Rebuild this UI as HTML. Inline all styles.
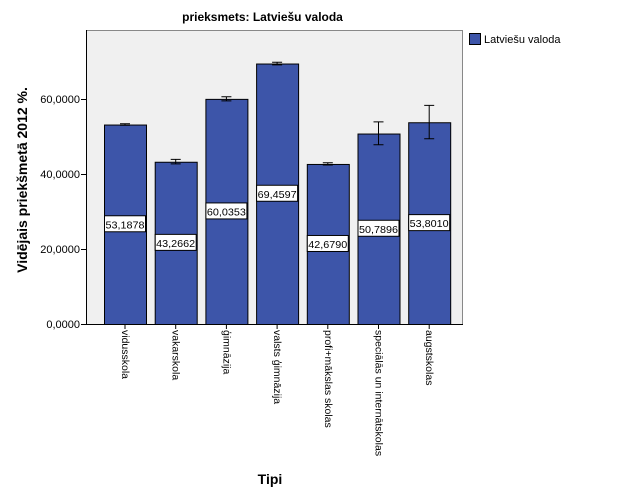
<!DOCTYPE html>
<html><head><meta charset="utf-8"><style>
body{margin:0;width:625px;height:500px;background:#fff;position:relative;overflow:hidden;font-family:"Liberation Sans",sans-serif}
.t{position:absolute;font-size:11px;color:#000}
.vl{position:absolute;writing-mode:vertical-rl;font-size:10.5px;top:330px;line-height:11px}
</style></head><body>
<div class="t" style="left:0;width:525px;top:10px;text-align:center;font-weight:bold;font-size:12px">prieksmets: Latviešu valoda</div>
<svg width="625" height="500" style="position:absolute;left:0;top:0" font-family="Liberation Sans, sans-serif">
<rect x="86.5" y="30.5" width="376" height="294" fill="#f0f0f0" stroke="#888"/>
<g stroke="#000">
<line x1="81" y1="324.5" x2="86" y2="324.5"/><line x1="81" y1="249.5" x2="86" y2="249.5"/>
<line x1="81" y1="174.5" x2="86" y2="174.5"/><line x1="81" y1="99.5" x2="86" y2="99.5"/>
<line x1="86.5" y1="30" x2="86.5" y2="325"/><line x1="86" y1="324.5" x2="463" y2="324.5"/>
</g>
<g font-size="11" text-anchor="end">
<text x="80" y="328">0,0000</text><text x="80" y="253">20,0000</text>
<text x="80" y="178">40,0000</text><text x="80" y="103">60,0000</text>
</g>
<g id="bars"></g>
<rect x="469.5" y="33.5" width="11" height="11" fill="#3d55a9" stroke="#000"/>
<text x="484" y="43" font-size="11">Latviešu valoda</text>
<text transform="translate(27,180) rotate(-90)" text-anchor="middle" font-weight="bold" font-size="14">Vidējais priekšmetā 2012 %.</text>
<text x="270" y="484" text-anchor="middle" font-weight="bold" font-size="14">Tipi</text>
</svg>
<script>
var d=[[53.1878,53.0,53.4,"vidusskola"],[43.2662,42.7,43.9,"vakarskola"],[60.0353,59.5,60.6,"ģimnāzija"],[69.4597,69.1,69.8,"valsts ģimnāzija"],[42.6790,42.4,43.0,"profi+mākslas skolas"],[50.7896,47.8,53.9,"speciālās un internātskolas"],[53.8010,49.4,58.3,"augstskolas"]];
var g=document.getElementById('bars'),s='';
function y(v){return 324-v*3.75;}
d.forEach(function(r,i){var x=104+i*50.7,w=42,cx=x+w/2;
s+='<rect x="'+(x+0.5)+'" y="'+(y(r[0])+0.5)+'" width="'+w+'" height="'+(r[0]*3.75)+'" fill="#3d55a9" stroke="#000"/>';
s+='<g stroke="#000"><line x1="'+cx+'" y1="'+y(r[2])+'" x2="'+cx+'" y2="'+y(r[1])+'"/><line x1="'+(cx-5)+'" y1="'+y(r[2])+'" x2="'+(cx+5)+'" y2="'+y(r[2])+'"/><line x1="'+(cx-5)+'" y1="'+y(r[1])+'" x2="'+(cx+5)+'" y2="'+y(r[1])+'"/></g>';
var ly=324-r[0]*3.75/2;
s+='<rect x="'+(cx-20.5)+'" y="'+(ly-8.5)+'" width="41" height="16" fill="#fff" stroke="#000"/>';
s+='<text x="'+cx+'" y="'+(ly+4)+'" font-size="10.5" text-anchor="middle" textLength="39" lengthAdjust="spacingAndGlyphs">'+r[0].toFixed(4).replace('.',',')+'</text>';
s+='<line x1="'+(x+21)+'" y1="324" x2="'+(x+21)+'" y2="329" stroke="#000"/>';
var e=document.createElement('div');e.className='vl';e.style.left=(x+15)+'px';e.textContent=r[3];document.body.appendChild(e);
});
g.innerHTML=s;
</script>
</body></html>
